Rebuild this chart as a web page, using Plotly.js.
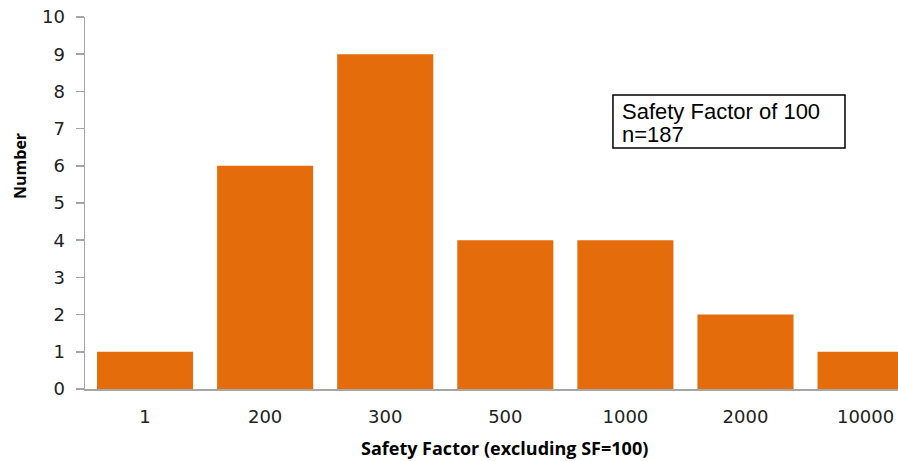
<!DOCTYPE html>
<html>
<head>
<meta charset="utf-8">
<script src="https://cdn.plot.ly/plotly-3.0.1.min.js"></script>
<style>
  html, body { margin: 0; padding: 0; background: #fff; overflow: hidden; }
  #chart { width: 898px; height: 461px; }
</style>
</head>
<body>
<div id="chart"></div>
<script>
// Safety factor bins and how many cases fall in each
const categories = ['1', '200', '300', '500', '1000', '2000', '10000'];
const counts = [1, 6, 9, 4, 4, 2, 1];
const yTicks = [0, 1, 2, 3, 4, 5, 6, 7, 8, 9, 10];
const noteLines = ['Safety Factor of 100', 'n=187'];
const xTitle = 'Safety Factor (excluding SF=100)';
const yTitle = 'Number';

const ORANGE = '#E46C0A';
const AXIS_GREY = '#a6a6a6';
const titleFont = { family: 'Open Sans', size: 18, color: '#000', weight: 'bold' };
const noteFont = { family: 'Liberation Sans', size: 22, color: '#000' };

const trace = {
  type: 'bar',
  x: categories,
  y: counts,
  marker: { color: ORANGE, line: { width: 0 } },
  width: 0.8,
  hoverinfo: 'x+y'
};

// note lines are placed one per annotation so the line spacing stays tight
const noteY = [0.7460, 0.6828];
const noteAnnotations = noteLines.map((line, i) => ({
  xref: 'paper', yref: 'paper',
  x: 0.659, y: noteY[i],
  xanchor: 'left', yanchor: 'middle',
  text: line,
  showarrow: false,
  borderpad: 0,
  font: noteFont
}));

const layout = {
  width: 898,
  height: 461,
  margin: { l: 85, r: 0, t: 17, b: 72 },
  paper_bgcolor: '#ffffff',
  plot_bgcolor: '#ffffff',
  showlegend: false,
  bargap: 0.2,
  xaxis: {
    type: 'category',
    // the last category runs past the right edge of the figure
    range: [-0.5, 6.27],
    showgrid: false,
    zeroline: false,
    showline: true,
    linecolor: AXIS_GREY,
    linewidth: 1.5,
    ticks: '',
    ticklabelstandoff: 11,
    tickfont: { family: 'DejaVu Sans', size: 18, color: '#222' },
    fixedrange: true
  },
  yaxis: {
    range: [0, 10],
    tickvals: yTicks,
    showgrid: false,
    zeroline: false,
    showline: true,
    linecolor: AXIS_GREY,
    linewidth: 1.5,
    ticks: 'outside',
    ticklen: 8,
    tickwidth: 1.5,
    tickcolor: AXIS_GREY,
    ticklabelstandoff: 7,
    tickfont: { family: 'DejaVu Sans', size: 18, color: '#222' },
    fixedrange: true
  },
  shapes: [{
    type: 'rect',
    xref: 'paper', yref: 'paper',
    x0: 0.6494, x1: 0.9348, y0: 0.6478, y1: 0.7903,
    line: { color: '#000', width: 1.5 },
    fillcolor: '#ffffff',
    layer: 'above'
  }],
  annotations: noteAnnotations.concat([
    {
      xref: 'paper', yref: 'paper',
      x: 0.5166, y: -0.1586,
      xanchor: 'center', yanchor: 'middle',
      text: xTitle,
      showarrow: false,
      borderpad: 0,
      font: titleFont
    },
    {
      xref: 'paper', yref: 'paper',
      x: -0.080, y: 0.5995,
      xanchor: 'center', yanchor: 'middle',
      textangle: -90,
      text: yTitle,
      showarrow: false,
      font: Object.assign({}, titleFont, { size: 16 })
    }
  ])
};

Plotly.newPlot('chart', [trace], layout, { displayModeBar: false, staticPlot: true });
</script>
</body>
</html>
